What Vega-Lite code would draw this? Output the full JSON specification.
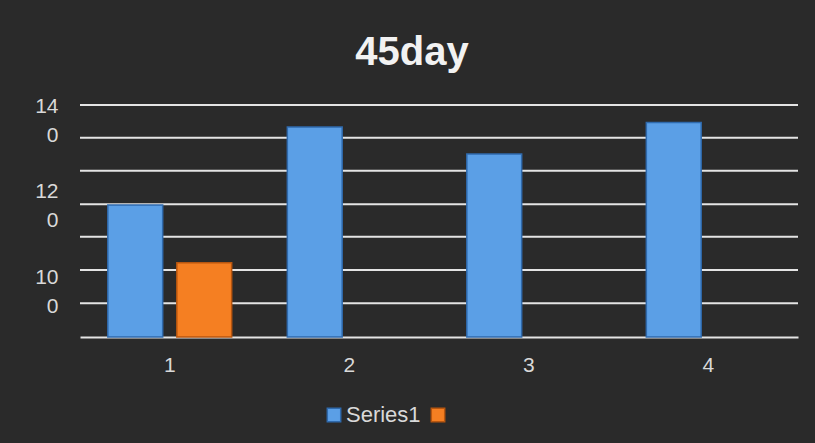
{
  "$schema": "https://vega.github.io/schema/vega-lite/v6.json",
  "autosize": {"type": "none"},
  "width": 718,
  "height": 232,
  "padding": {"left": 80, "top": 105, "right": 17, "bottom": 106},
  "background": "#2a2a2a",
  "config": {
    "view": {"stroke": null},
    "font": "Liberation Sans"
  },
  "title": {
    "text": "45day",
    "fontSize": 40,
    "fontWeight": "bold",
    "color": "#f2f2f2",
    "font": "Liberation Sans",
    "anchor": "middle",
    "dx": -27,
    "offset": 22
  },
  "layer": [
    {
      "data": {"values": [
        {"grid": 97.35}, {"grid": 105.1}, {"grid": 112.85}, {"grid": 120.4},
        {"grid": 128.2}, {"grid": 135.9}, {"grid": 143.5}
      ]},
      "mark": {"type": "rule", "color": "#e4e4e4", "strokeWidth": 2},
      "encoding": {
        "y": {"field": "grid", "type": "quantitative", "scale": {"domain": [89.5, 143.5], "zero": false, "nice": false}}
      }
    },
    {
      "data": {"values": [
        {"category": "1", "series": "Series1", "value": 120.2},
        {"category": "1", "series": "Series2", "value": 106.8},
        {"category": "2", "series": "Series1", "value": 138.4},
        {"category": "3", "series": "Series1", "value": 132.1},
        {"category": "4", "series": "Series1", "value": 139.4}
      ]},
      "mark": {"type": "bar", "strokeWidth": 1.5},
      "encoding": {
        "x": {
          "field": "category", "type": "nominal",
          "scale": {"paddingInner": 0.31, "paddingOuter": 0.155},
          "axis": {
            "title": null, "labelAngle": 0, "ticks": false,
            "labelFontSize": 21, "labelColor": "#d9d9d9", "labelPadding": 17,
            "domain": true, "domainColor": "#e4e4e4", "domainWidth": 2
          }
        },
        "xOffset": {
          "field": "series", "type": "nominal",
          "scale": {"domain": ["Series1", "Series2"], "paddingInner": 0.205, "paddingOuter": 0}
        },
        "y": {
          "field": "value", "type": "quantitative",
          "scale": {"domain": [89.5, 143.5], "zero": false, "nice": false},
          "axis": {
            "title": null, "values": [100, 120, 140],
            "labelExpr": "[substring(datum.label, 0, 2), substring(datum.label, 2)]",
            "labelLineHeight": 29, "labelFontSize": 21, "labelColor": "#d9d9d9",
            "labelPadding": 22, "labelOffset": -14, "ticks": false, "domain": false, "grid": false
          }
        },
        "y2": {"datum": 89.5},
        "color": {
          "field": "series", "type": "nominal",
          "scale": {"domain": ["Series1", "Series2"], "range": ["#5b9fe6", "#f57f22"]},
          "legend": {
            "title": null, "orient": "none", "direction": "horizontal",
            "legendX": 243, "legendY": 299,
            "symbolType": "square", "symbolSize": 180,
            "symbolOpacity": 1,
            "labelFontSize": 22, "labelColor": "#d9d9d9", "labelOffset": 1,
            "columnPadding": 6,
            "labelExpr": "datum.label == 'Series2' ? '' : datum.label"
          }
        },
        "stroke": {
          "field": "series", "type": "nominal",
          "scale": {"domain": ["Series1", "Series2"], "range": ["#2f6aad", "#b8560f"]},
          "legend": {
            "title": null, "orient": "none", "direction": "horizontal",
            "legendX": 243, "legendY": 299,
            "symbolType": "square", "symbolSize": 180,
            "symbolOpacity": 1,
            "labelFontSize": 22, "labelColor": "#d9d9d9", "labelOffset": 1,
            "columnPadding": 6,
            "labelExpr": "datum.label == 'Series2' ? '' : datum.label"
          }
        }
      }
    }
  ]
}
